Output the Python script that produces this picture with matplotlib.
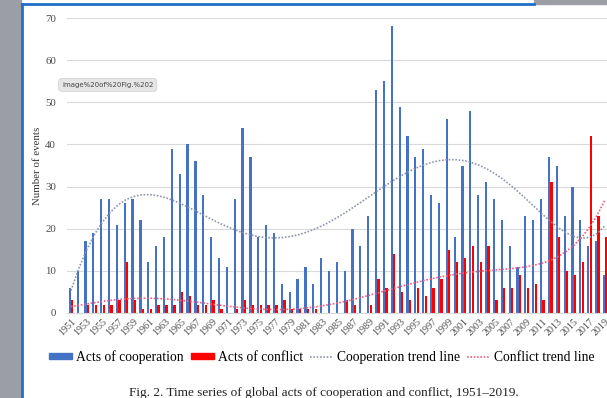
import numpy as np
import matplotlib.pyplot as plt
from matplotlib.patches import Rectangle
from matplotlib.lines import Line2D

# Data
years = np.arange(1951, 2020)
cooperation = [6, 10, 17, 19, 27, 27, 21, 26, 27, 22,
               12, 16, 18, 39, 33, 40, 36, 28, 18, 13,
               11, 27, 44, 37, 18, 21, 19, 7, 5, 8,
               11, 7, 13, 10, 12, 10, 20, 16, 23, 53,
               55, 68, 49, 42, 37, 39, 28, 26, 46, 18,
               35, 48, 28, 31, 27, 22, 16, 11, 23, 22,
               27, 37, 35, 23, 30, 22, 16, 17, 9]
conflict = [3, 0, 2, 2, 2, 2, 3, 12, 3, 1,
            1, 2, 2, 2, 5, 4, 2, 2, 3, 1,
            0, 1, 3, 2, 2, 2, 2, 3, 1, 1,
            1, 1, 0, 0, 0, 3, 2, 0, 2, 8,
            6, 14, 5, 3, 6, 4, 6, 8, 15, 12,
            13, 16, 12, 16, 3, 6, 6, 9, 6, 7,
            3, 31, 18, 10, 9, 12, 42, 23, 18]

blue = "#4472C4"
red = "#FF0000"
coop_col = "#8e97aa"
conf_col = "#f0607f"
serif = "Liberation Serif"

x = np.arange(len(years))

# Excel style polynomial trend lines
coop_trend = np.polyval(np.polyfit(x, cooperation, 6), x)
conf_trend = np.polyval(np.polyfit(x, conflict, 6), x)

fig = plt.figure(figsize=(6.07, 3.98), dpi=100)

# screenshot frame: grey strip on the left, blue border
fig.patches.append(Rectangle((0, 0), 21 / 607, 1, transform=fig.transFigure,
                             color="#9c9ea5", zorder=0))
fig.patches.append(Rectangle((534 / 607, 1 - 4 / 398), 73 / 607, 4 / 398,
                             transform=fig.transFigure, color="#9c9ea5", zorder=0))
fig.add_artist(Line2D([21.5 / 607, 21.5 / 607], [0, 1 - 3.5 / 398],
                      transform=fig.transFigure, color="#1f6fc9", lw=2))
fig.add_artist(Line2D([21.5 / 607, 534 / 607], [1 - 3.5 / 398, 1 - 3.5 / 398],
                      transform=fig.transFigure, color="#1f6fc9", lw=2))

ax = fig.add_axes([67 / 607, 85 / 398, 542 / 607, 295 / 398])

ax.bar(x - 0.15, cooperation, width=0.28, color=blue, zorder=2)
ax.bar(x + 0.17, conflict, width=0.3, color=red, zorder=2)
ax.plot(x, coop_trend, color=coop_col, lw=1.2, ls=(0, (1, 1)), zorder=3)
ax.plot(x, conf_trend, color=conf_col, lw=1.2, ls=(0, (1, 1)), zorder=3)

ax.set_xlim(-0.5, len(years) - 0.5)
ax.set_ylim(0, 70)
ax.set_yticks(range(0, 71, 10))
ax.yaxis.grid(True, color="#d9d9d9", lw=0.8, zorder=0)
ax.set_axisbelow(True)
for s in ["top", "right", "left"]:
    ax.spines[s].set_visible(False)
ax.spines["bottom"].set_color("#d9d9d9")
ax.tick_params(axis="both", length=0, colors="#4a4a4a")

ax.set_xticks(x[::2])
ax.set_xticklabels([str(y) for y in years[::2]], rotation=45, ha="right",
                   rotation_mode="anchor", fontsize=7.2, family=serif)
for lab in ax.get_yticklabels():
    lab.set_family(serif)
    lab.set_fontsize(7.8)
ax.tick_params(axis="y", pad=8)
ax.tick_params(axis="x", pad=3)
ax.set_ylabel("Number of events", family=serif, fontsize=7.8, color="#333333",
              labelpad=2)

# legend under the chart
handles = [Rectangle((0, 0), 1, 0.5, color=blue),
           Rectangle((0, 0), 1, 0.5, color=red),
           Line2D([], [], color=coop_col, lw=1.2, ls=(0, (1, 1))),
           Line2D([], [], color=conf_col, lw=1.2, ls=(0, (1, 1)))]
labels = ["Acts of cooperation", "Acts of conflict",
          "Cooperation trend line", "Conflict trend line"]
fig.legend(handles, labels, loc="center", bbox_to_anchor=(322 / 607, 1 - 357 / 398),
           ncol=4, frameon=False, prop={"family": serif, "size": 9.8},
           handlelength=1.7, handleheight=0.35, handletextpad=0.3,
           columnspacing=0.5, borderpad=0, borderaxespad=0)

# browser tooltip left over in the screenshot
fig.text(62 / 607, 1 - 85 / 398, "image%20of%20Fig.%202", fontsize=5,
         color="#444444", va="center", ha="left",
         bbox=dict(boxstyle="round,pad=0.5", fc="#e6e6e6", ec="#d0d0d0", lw=0.5))

fig.text(324 / 607, 1 - 393 / 398,
         "Fig. 2. Time series of global acts of cooperation and conflict, 1951\u20132019.",
         ha="center", va="center", family=serif, fontsize=9.5, color="#222222")

fig.savefig("out.png", dpi=100)
